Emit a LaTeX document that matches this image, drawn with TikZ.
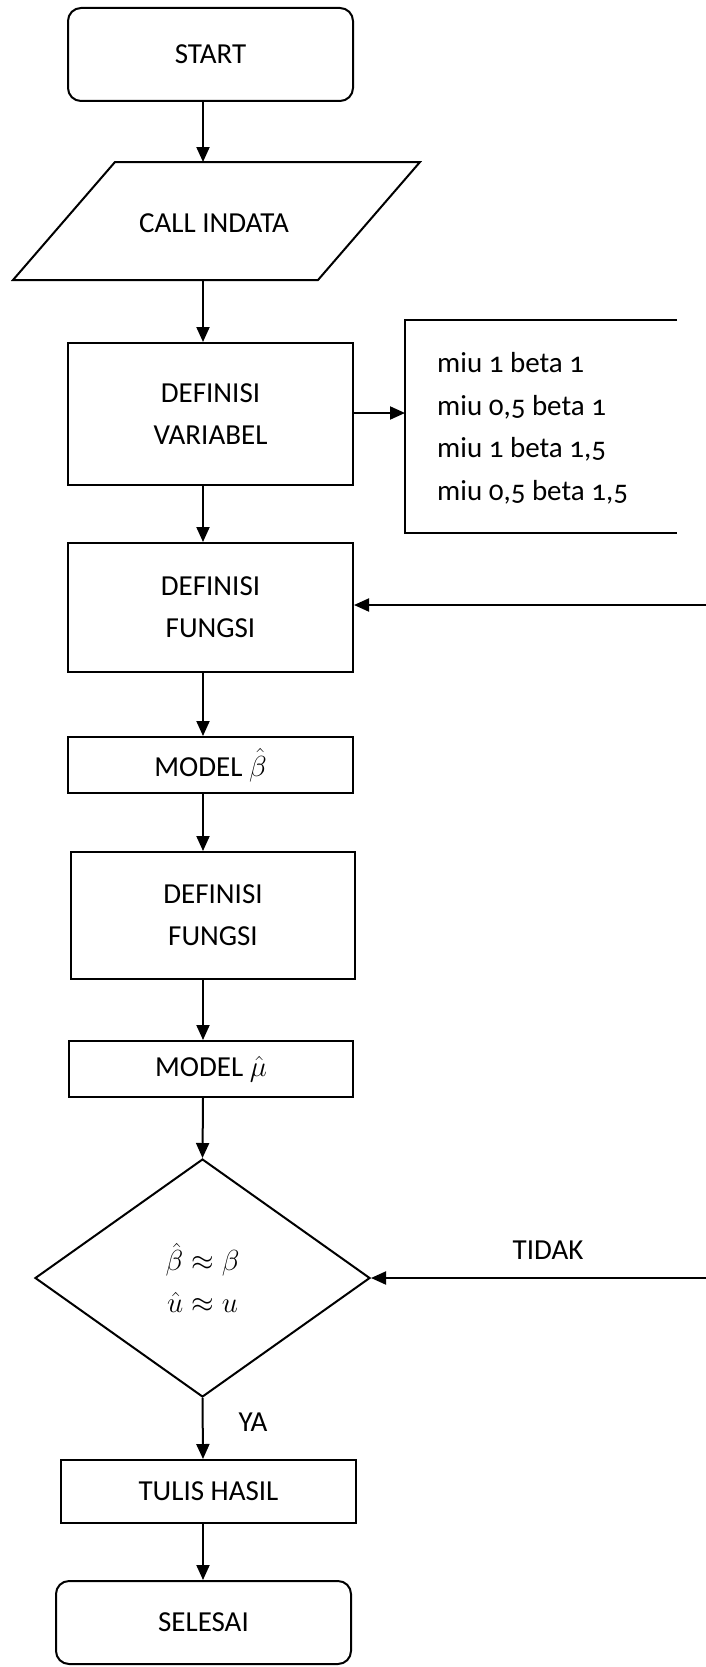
\RequirePackage{fix-cm}
\documentclass[tikz,border=0pt]{standalone}
\usepackage{fontspec}
\setmainfont{Carlito}
\newfontfamily\oldnum{Carlito}[Numbers=OldStyle]
\usetikzlibrary{shapes.geometric,arrows.meta}
\begin{document}
\begin{tikzpicture}[x=1pt,y=-1pt,
  every node/.style={font=\fontsize{29}{42}\selectfont},
  box/.style={draw, line width=2pt, inner sep=0pt, align=center},
  rbox/.style={box, rounded corners=13pt},
  arr/.style={line width=2pt, -{Triangle[length=15pt,width=13pt]}},
  edge/.style={line width=2pt}
  ]
\useasboundingbox (0,0) rectangle (706,1667);
\coordinate (ax) at (203,0);

\node[rbox, minimum width=285pt, minimum height=93pt] (start) at (210.5,54.5) {START};

\draw[edge] (115,162) -- (420,162) -- (318,280) -- (13,280) -- cycle;
\node (indata) at (214,223) {CALL INDATA};
\coordinate (ptop) at (203,162);
\coordinate (pbot) at (203,280);

\node[box, minimum width=285pt, minimum height=142pt] (var) at (210.5,414) {DEFINISI\\VARIABEL};

\draw[edge] (677,320) -- (405,320) -- (405,533) -- (677,533);
\coordinate (rb) at (405,413);
\node[anchor=west, inner sep=0pt, align=left, font=\oldnum\fontsize{29}{42.5}\selectfont] (opts) at (437,428.5)
  {miu 1 beta 1\\miu 0,5 beta 1\\miu 1 beta 1,5\\miu 0,5 beta 1,5};

\node[box, minimum width=285pt, minimum height=129pt] (fun1) at (210.5,607.5) {DEFINISI\\FUNGSI};
\node[box, minimum width=285pt, minimum height=56pt] (mb) at (210.5,765) {MODEL $\hat{\beta}$};
\node[box, minimum width=284pt, minimum height=127pt] (fun2) at (213,915.5) {DEFINISI\\FUNGSI};
\node[box, minimum width=284pt, minimum height=56pt] (mu) at (211,1069) {MODEL $\hat{\mu}$};

\node[draw, diamond, line width=2pt, minimum width=335pt, minimum height=238pt, inner sep=0pt, align=center]
  (dia) at (202.5,1278) {$\hat{\beta}\approx\beta$\\$\hat{u}\approx u$};

\node (tidak) at (548,1250) {TIDAK};
\node (ya) at (253,1422) {YA};

\node[box, minimum width=295pt, minimum height=63pt] (tulis) at (208.5,1491.5) {TULIS HASIL};
\node[rbox, minimum width=295pt, minimum height=83pt] (sel) at (203.5,1622.5) {SELESAI};

\coordinate (e1) at (706,605);
\coordinate (e2) at (706,1278);

\draw[arr] (start.south -| ax) -- (ptop);
\draw[arr] (pbot) -- (var.north -| ax);
\draw[arr] (var.east |- rb) -- (rb);
\draw[arr] (var.south -| ax) -- (fun1.north -| ax);
\draw[arr] (e1) -- (fun1.east |- e1);
\draw[arr] (fun1.south -| ax) -- (mb.north -| ax);
\draw[arr] (mb.south -| ax) -- (fun2.north -| ax);
\draw[arr] (fun2.south -| ax) -- (mu.north -| ax);
\draw[arr] (mu.south -| ax) -- (dia.north);
\draw[arr] (e2) -- (dia.east);
\draw[arr] (dia.south) -- (tulis.north -| ax);
\draw[arr] (tulis.south -| ax) -- (sel.north -| ax);
\end{tikzpicture}
\end{document}
